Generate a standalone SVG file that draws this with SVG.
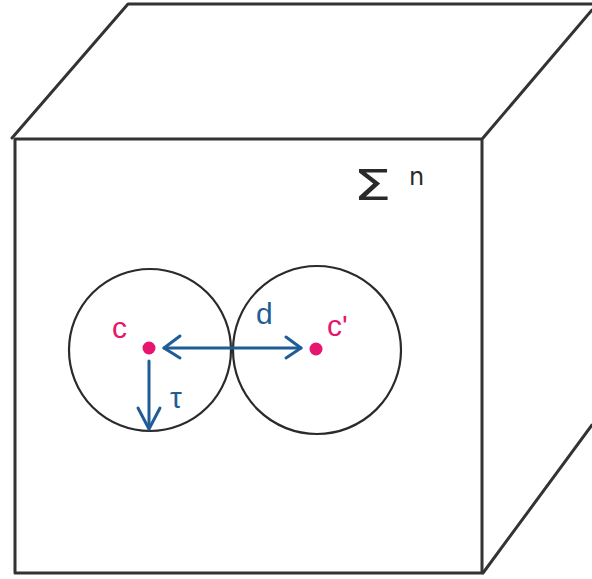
<svg xmlns="http://www.w3.org/2000/svg" width="592" height="579" viewBox="0 0 592 579">
<style>
.edge{fill:none;stroke:#333;stroke-width:3;stroke-linejoin:round;stroke-linecap:round}
.circ{fill:none;stroke:#2a2a2a;stroke-width:2.2}
.pt{fill:#e8156e}
.pl{fill:#e8156e;font-family:"Liberation Sans",sans-serif;font-size:30px}
.bl{fill:#1f5d96;font-family:"Liberation Sans",sans-serif;font-size:30px}
.arr{fill:none;stroke:#1f5d96;stroke-width:3;stroke-linecap:round;stroke-linejoin:round}
</style>
<rect width="592" height="579" fill="#fff"/>
<g id="cube">
<polyline class="edge" points="12,138 128,4 592,4"/>
<line class="edge" x1="483" y1="138" x2="592" y2="10"/>
<rect class="edge" x="15" y="139" width="467" height="434"/>
<line class="edge" x1="483" y1="573" x2="592" y2="425"/>
<text transform="translate(353,200) scale(1.45,1)" x="0" y="0" style="font-family:'DejaVu Sans',sans-serif;font-size:42px;fill:#2a2a2a">Σ</text>
<text x="409" y="185" style="font-family:'DejaVu Sans',sans-serif;font-size:24px;fill:#2a2a2a">n</text>
</g>
<g id="ball-c">
<circle class="circ" cx="150" cy="350" r="81"/>
<circle class="pt" cx="149" cy="348" r="6.5"/>
<text class="pl" x="112" y="338">c</text>
</g>
<g id="ball-c-prime">
<circle class="circ" cx="317" cy="350" r="84"/>
<circle class="pt" cx="316" cy="349" r="6.5"/>
<text class="pl" x="327" y="336">c'</text>
</g>
<g id="connectors">
<line class="arr" x1="164" y1="348" x2="301" y2="348"/>
<polyline class="arr" points="180,336 164,348 180,358"/>
<polyline class="arr" points="286,337 301,348 286,358"/>
<text class="bl" x="256" y="324">d</text>
<line class="arr" x1="149" y1="361" x2="149" y2="429"/>
<polyline class="arr" points="138,408 149,429 160,408"/>
<text class="bl" x="170" y="408">τ</text>
</g>
</svg>
